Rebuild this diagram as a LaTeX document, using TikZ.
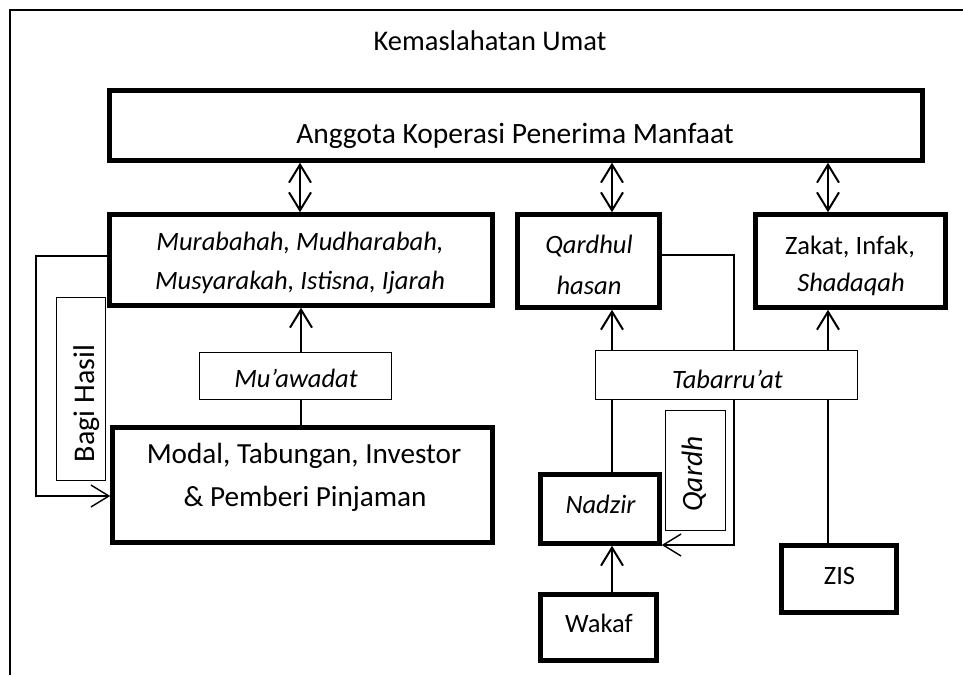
\documentclass[tikz,border=0pt]{standalone}
\usepackage{fontspec}
\setmainfont{Carlito}
\usetikzlibrary{arrows.meta}
\begin{document}
\begin{tikzpicture}[x=1pt,y=-1pt,
  bigbox/.style={draw,line width=4.5pt,inner sep=0pt},
  thinbox/.style={draw,line width=1pt,fill=white,inner sep=0pt},
  txt/.style={anchor=base,inner sep=0pt,font=\fontsize{26.5}{30}\selectfont},
  ittxt/.style={anchor=base,inner sep=0pt,font=\fontsize{26.5}{30}\selectfont\itshape},
  bigtxt/.style={anchor=base,inner sep=0pt,font=\fontsize{29.2}{32}\selectfont},
  barb/.tip={Straight Barb[length=18pt,width=22pt]},
  arr/.style={line width=2pt,-barb},
  dbl/.style={line width=2pt,barb-barb},
  thinline/.style={line width=1.4pt},
  frame/.style={line width=1.6pt}]
\useasboundingbox (0,0) rectangle (963,675);
% frame
\coordinate (f1) at (10,675);
\coordinate (f2) at (10,10);
\coordinate (f3) at (963,10);
\draw[frame] (f1) -- (f2) -- (f3);
% main boxes
\node[bigbox,minimum width=813pt,minimum height=70pt] (top) at (516,125.5) {};
\node[bigbox,minimum width=383pt,minimum height=91pt] (A) at (301,260) {};
\node[bigbox,minimum width=142pt,minimum height=93pt] (B) at (588.5,261) {};
\node[bigbox,minimum width=190pt,minimum height=93pt] (C) at (850.5,261) {};
\node[bigbox,minimum width=380pt,minimum height=115pt] (modal) at (302.5,485) {};
\node[bigbox,minimum width=119pt,minimum height=69pt] (nadzir) at (600,509) {};
\node[bigbox,minimum width=116pt,minimum height=66pt] (wakaf) at (598.5,627.5) {};
\node[bigbox,minimum width=115pt,minimum height=67pt] (zis) at (839,579) {};
% connectors
\draw[dbl] (300,0 |- top.south) -- (300,0 |- A.north);
\draw[dbl] (612,0 |- top.south) -- (612,0 |- B.north);
\draw[dbl] (828,0 |- top.south) -- (828,0 |- C.north);
\draw[arr] (A.south |- modal.north) -- (A.south);
\draw[arr] (612,0 |- nadzir.north) -- (612,0 |- B.south);
\draw[arr] (612,0 |- wakaf.north) -- (612,0 |- nadzir.south);
\draw[arr] (828,0 |- zis.north) -- (828,0 |- C.south);
\draw[thinline,-barb] (A.west |- 0,256) -- (36,256) -- (36,496) -- (modal.west |- 0,496);
\draw[thinline,-barb] (B.east |- 0,255) -- (734,255) -- (734,545) -- (nadzir.east |- 0,545);
% thin label boxes
\node[thinbox,minimum width=192pt,minimum height=47pt] (muaw) at (295.5,376) {};
\node[thinbox,minimum width=262pt,minimum height=49pt] (tabar) at (726.5,375) {};
\node[thinbox,minimum width=49pt,minimum height=183pt] (bagibox) at (81,389) {};
\node[thinbox,minimum width=60pt,minimum height=120pt] (qardhbox) at (695.5,470.5) {};
% texts
\node[anchor=base,inner sep=0pt,font=\fontsize{28.5}{32}\selectfont] (tTitle) at (490,50) {Kemaslahatan Umat};
\node[bigtxt,font=\fontsize{29.5}{32}\selectfont] (tTop) at (515,143) {Anggota Koperasi Penerima Manfaat};
\node[ittxt] (tA1) at (300,250) {Murabahah, Mudharabah,};
\node[ittxt] (tA2) at (300,289) {Musyarakah, Istisna, Ijarah};
\node[ittxt] (tB1) at (589,253) {Qardhul};
\node[ittxt] (tB2) at (589,294) {hasan};
\node[txt] (tC1) at (850,254) {Zakat, Infak,};
\node[ittxt] (tC2) at (851,291) {Shadaqah};
\node[bigtxt] (tM1) at (304,463) {Modal, Tabungan, Investor};
\node[bigtxt] (tM2) at (305,506) {\& Pemberi Pinjaman};
\node[ittxt] (tMuaw) at (296,387) {Mu’awadat};
\node[ittxt] (tTab) at (727.5,388) {Tabarru’at};
\node[ittxt] (tNad) at (600.5,513) {Nadzir};
\node[txt] (tWak) at (599,632) {Wakaf};
\node[txt] (tZis) at (839.5,584) {ZIS};
\node[anchor=base,inner sep=0pt,font=\fontsize{30}{32}\selectfont,rotate=90] (tBagi) at (94,403.5) {Bagi Hasil};
\node[anchor=base,inner sep=0pt,font=\fontsize{29.5}{32}\selectfont\itshape,rotate=90] (tQardh) at (702,474) {Qardh};
\end{tikzpicture}
\end{document}
